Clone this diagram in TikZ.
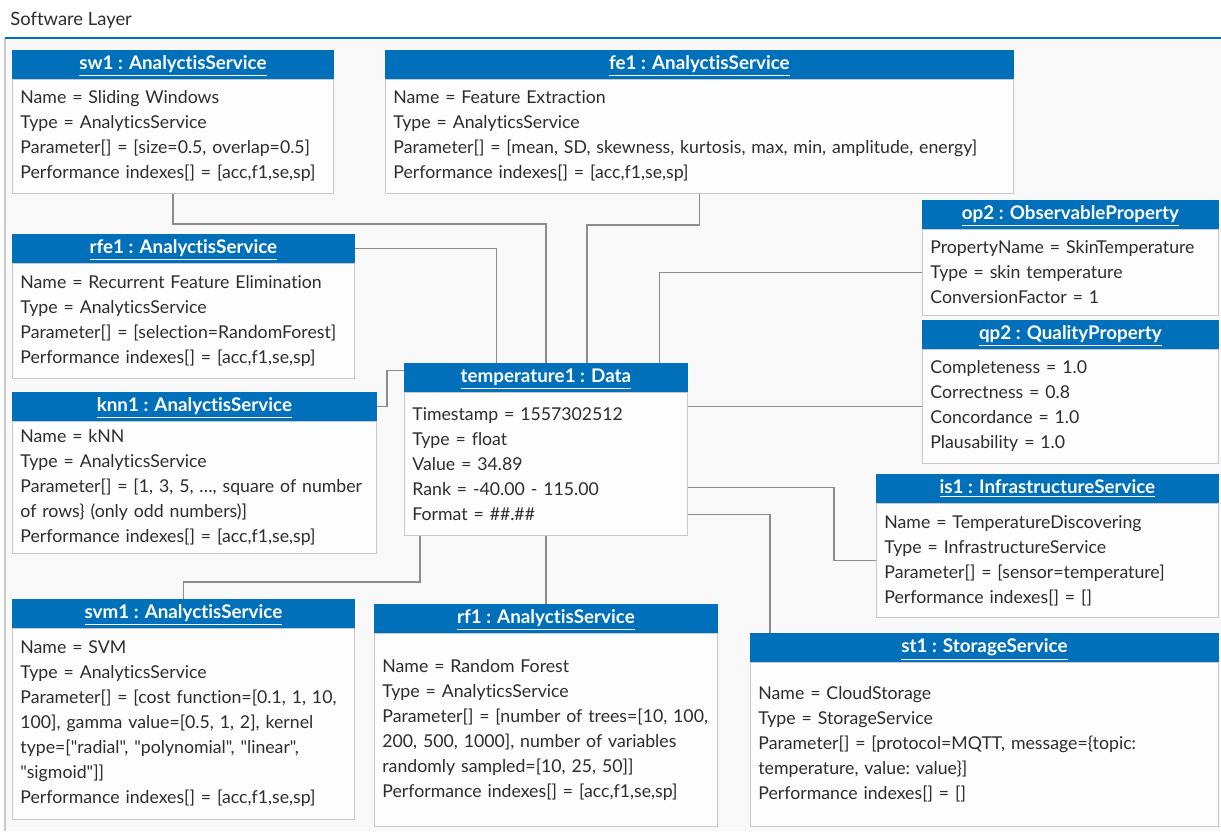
\documentclass[tikz,border=0pt]{standalone}
\usepackage{fontspec}
\setmainfont{Lato}[Ligatures={TeXOff,NoCommon}]
\usetikzlibrary{positioning, calc}

\definecolor{hdrblue}{RGB}{0,112,187}
\definecolor{boxgray}{RGB}{200,200,200}
\definecolor{linkgray}{RGB}{140,140,140}
\definecolor{txtgray}{RGB}{45,45,45}
\definecolor{layerbg}{RGB}{249,249,249}

\tikzset{
  hdr/.style={rectangle, fill=hdrblue, draw=hdrblue, text=white, anchor=north west,
    minimum height=14pt, inner sep=0pt, text height=7pt, text depth=1.5pt,
    font=\fontsize{9.4}{11}\selectfont\bfseries},
  attrs/.style={rectangle, fill=white!60!layerbg, draw=boxgray, line width=0.6pt, text=txtgray,
    align=left, inner xsep=4pt, inner ysep=0pt, font=\fontsize{8.85}{12.5}\selectfont\frenchspacing},
  link/.style={draw=linkgray, line width=0.7pt},
}

\begin{document}
\begin{tikzpicture}[x=0.5pt, y=-0.5pt]
\useasboundingbox (0,0) rectangle (1221,831);
% layer frame
\fill[white] (0,0) rectangle (1221,831);
\fill[layerbg] (5,38) rectangle (1221,831);
\draw[boxgray, line width=0.7pt] (5,38) -- (5,831);
\draw[hdrblue, line width=1.2pt] (5,38) -- (1221,38);
\node[anchor=west, text=txtgray, font=\fontsize{9.2}{11}\selectfont, inner sep=0pt] (layer) at (10,20) {Software Layer};

% analytics services, top row
\node[hdr, minimum width=160.5pt] (sw1h) at (12,50) {\underline{sw1 : AnalyctisService}};
\node[attrs, text width=152.5pt, minimum height=57pt, below=0pt of sw1h] (sw1)
  {Name = Sliding Windows\\ Type = AnalyticsService\\ Parameter[] = [size=0.5, overlap=0.5]\\ Performance indexes[] = [acc,f1,se,sp]};

\node[hdr, minimum width=314pt] (fe1h) at (385,50) {\underline{fe1 : AnalyctisService}};
\node[attrs, text width=306pt, minimum height=57pt, below=0pt of fe1h] (fe1)
  {Name = Feature Extraction\\ Type = AnalyticsService\\ Parameter[] = [mean, SD, skewness, kurtosis, max, min, amplitude, energy]\\ Performance indexes[] = [acc,f1,se,sp]};

% left column
\node[hdr, minimum width=171pt] (rfe1h) at (12,234) {\underline{rfe1 : AnalyctisService}};
\node[attrs, text width=163pt, minimum height=57.5pt, below=0pt of rfe1h] (rfe1)
  {Name = Recurrent Feature Elimination\\ Type = AnalyticsService\\ Parameter[] = [selection=RandomForest]\\ Performance indexes[] = [acc,f1,se,sp]};

\node[hdr, minimum width=182pt] (knn1h) at (12,392) {\underline{knn1 : AnalyctisService}};
\node[attrs, text width=174pt, minimum height=66pt, below=0pt of knn1h] (knn1)
  {Name = kNN\\ Type = AnalyticsService\\ Parameter[] = [1, 3, 5, \ldots, square of number\\ of rows\} (only odd numbers)]\\ Performance indexes[] = [acc,f1,se,sp]};

% the data object
\node[hdr, minimum width=141.5pt] (temp1h) at (404,363) {\underline{temperature1 : Data}};
\node[attrs, text width=133.5pt, minimum height=71.5pt, below=0pt of temp1h] (temp1)
  {Timestamp = 1557302512\\ Type = float\\ Value = 34.89\\ Rank = -40.00 - 115.00\\ Format = \#\#.\#\#};

% properties and infrastructure, right column
\node[hdr, minimum width=148pt] (op2h) at (922,200) {\underline{op2 : ObservableProperty}};
\node[attrs, text width=140pt, minimum height=43pt, below=0pt of op2h] (op2)
  {PropertyName = SkinTemperature\\ Type = skin temperature\\ ConversionFactor = 1};

\node[hdr, minimum width=148pt] (qp2h) at (922,320) {\underline{qp2 : QualityProperty}};
\node[attrs, text width=140pt, minimum height=57pt, below=0pt of qp2h] (qp2)
  {Completeness = 1.0\\ Correctness = 0.8\\ Concordance = 1.0\\ Plausability = 1.0};

\node[hdr, minimum width=171pt] (is1h) at (876,474) {\underline{is1 : InfrastructureService}};
\node[attrs, text width=163pt, minimum height=57pt, below=0pt of is1h] (is1)
  {Name = TemperatureDiscovering\\ Type = InfrastructureService\\ Parameter[] = [sensor=temperature]\\ Performance indexes[] = []};

% bottom row
\node[hdr, minimum width=171pt] (svm1h) at (12,599) {\underline{svm1 : AnalyctisService}};
\node[attrs, text width=163pt, minimum height=95.5pt, below=0pt of svm1h] (svm1)
  {Name = SVM\\ Type = AnalyticsService\\ Parameter[] = [cost function=[0.1, 1, 10,\\ 100], gamma value=[0.5, 1, 2], kernel\\ type=["radial", "polynomial", "linear",\\ "sigmoid"]]\\ Performance indexes[] = [acc,f1,se,sp]};

\node[hdr, minimum width=171.5pt] (rf1h) at (374,604) {\underline{rf1 : AnalyctisService}};
\node[attrs, text width=163.5pt, minimum height=96.5pt, below=0pt of rf1h] (rf1)
  {Name = Random Forest\\ Type = AnalyticsService\\ Parameter[] = [number of trees=[10, 100,\\ 200, 500, 1000], number of variables\\ randomly sampled=[10, 25, 50]]\\ Performance indexes[] = [acc,f1,se,sp]};

\node[hdr, minimum width=234pt] (st1h) at (750,633) {\underline{st1 : StorageService}};
\node[attrs, text width=226pt, minimum height=82pt, below=0pt of st1h] (st1)
  {Name = CloudStorage\\ Type = StorageService\\ Parameter[] = [protocol=MQTT, message=\{topic:\\ temperature, value: value\}]\\ Performance indexes[] = []};

% links to temperature1
\draw[link] (sw1.south) -- ++(0,30) -| (temp1h.north);
\draw[link] (fe1.south) -- ++(0,31) -| ($(temp1h.north)+(41,0)$);
\draw[link] (rfe1h.east) -| ($(temp1h.north)+(-49.5,0)$);
\draw[link] (op2.west) -| ($(temp1h.north)+(113.5,0)$);
\draw[link] (qp2.west) -- (qp2.west -| temp1.east);
\draw[link] (is1.west) -- ++(-42,0) |- ($(temp1.east)+(0,23.5)$);
\draw[link] ($(temp1.east)+(0,50.5)$) -| ($(st1h.north west)+(20,0)$);
\draw[link] (temp1.south) -- (rf1h.north);
\draw[link] ($(temp1.south west)+(16,0)$) -- ++(0,46) -| (svm1h.north);
\draw[link] (knn1h.east) -- ++(10,0) |- ($(temp1h.west)+(0,-7)$);
\end{tikzpicture}
\end{document}
